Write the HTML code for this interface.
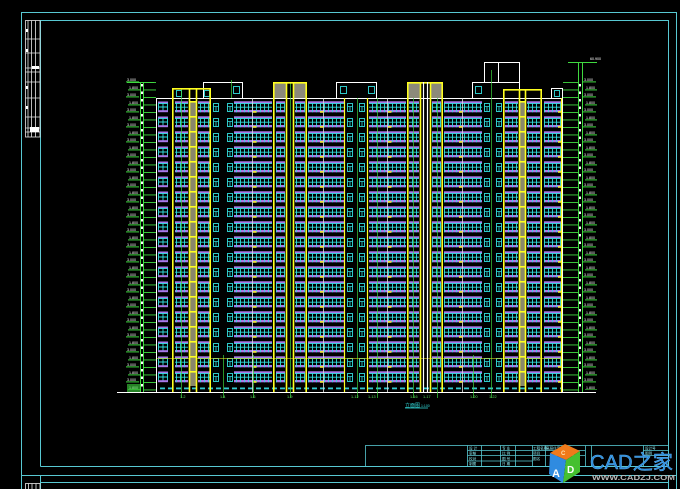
<!DOCTYPE html>
<html><head><meta charset="utf-8"><style>
html,body{margin:0;padding:0;background:#000;width:680px;height:489px;overflow:hidden;}
svg{display:block;}
</style></head><body>
<svg width="680" height="489" viewBox="0 0 680 489" xmlns="http://www.w3.org/2000/svg" font-family="Liberation Sans, Noto Sans CJK SC, sans-serif">
<defs>
 <pattern id="wide" patternUnits="userSpaceOnUse" x="0" y="101" width="4" height="15">
  <rect y="0.3" width="4" height="2" fill="#a878e8"/>
  <rect y="9" width="4" height="2.3" fill="#a878e8"/>
  <path d="M0 2.6H4M0.5 2V11.3M0 6.2H4" stroke="#33dede" stroke-width="0.9" fill="none"/>
 </pattern>
 <pattern id="winA" patternUnits="userSpaceOnUse" x="0" y="101" width="13" height="15">
  <rect x="2" y="0.5" width="10" height="2" fill="#a878e8"/>
  <rect x="2.5" y="2.5" width="9" height="8" fill="none" stroke="#33dede" stroke-width="0.9"/>
  <path d="M7 2.5V10.5M2.5 6H11.5" stroke="#33dede" stroke-width="0.9"/>
  <rect x="2" y="9.2" width="10" height="2" fill="#a878e8"/>
 </pattern>
 <pattern id="nar" patternUnits="userSpaceOnUse" x="0" y="101" width="6" height="15">
  <rect x="0.5" y="2.5" width="5" height="8" fill="none" stroke="#33dede" stroke-width="0.9"/>
  <path d="M0.5 5.5H5.5M3 5.5V10.5" stroke="#33dede" stroke-width="0.8"/>
 </pattern>
 <pattern id="tg" patternUnits="userSpaceOnUse" x="0" y="101" width="7" height="15">
  <rect width="7" height="15" fill="#8a886a"/>
  <rect y="0" width="7" height="1.6" fill="#ffff20"/>
 </pattern>
 <pattern id="ym" patternUnits="userSpaceOnUse" x="0" y="101" width="4" height="15">
  <rect x="0" y="10" width="3.5" height="1.8" fill="#f0e040"/>
 </pattern>
 <pattern id="tick" patternUnits="userSpaceOnUse" x="0" y="82" width="16" height="7.5">
  <rect x="0" y="0" width="16" height="0.9" fill="#3fd83f"/>
 </pattern>
 <pattern id="elL" patternUnits="userSpaceOnUse" x="0" y="78" width="16" height="15">
  <text x="1" y="3" font-size="3.6" fill="#ffffff">3.000</text>
  <rect x="0" y="3.4" width="13" height="1" fill="#3fd83f"/>
  <text x="3" y="11" font-size="3.6" fill="#ffffff">1.800</text>
  <rect x="2" y="11.4" width="12" height="1" fill="#3fd83f"/>
 </pattern>
 <pattern id="mk" patternUnits="userSpaceOnUse" x="0" y="84" width="3" height="7.5">
  <rect x="0" y="0" width="2" height="2.5" fill="#ffffff"/>
 </pattern>
 <pattern id="gdash" patternUnits="userSpaceOnUse" x="0" y="387" width="8" height="4">
  <rect x="0" y="0.5" width="5" height="1.8" fill="#33c8d0"/>
 </pattern>
</defs>

<rect width="680" height="489" fill="#000"/>

<!-- Frames -->
<g fill="none" stroke="#58c8d2" stroke-width="1">
 <path d="M21.5 489V12.5H676.5V489"/>
 <path d="M40.5 466.5V20.5H668.5V466.5H40.5"/>
 <path d="M21 475.5H677"/>
 <path d="M40 482.5H668"/>
 <path d="M40.5 475V489M668.5 475V489"/>
</g>

<!-- Left title strip -->
<g stroke="#e8e8e8" stroke-width="0.8" fill="none">
 <rect x="25.5" y="20.5" width="14.5" height="116.5"/>
 <path d="M28 20.5V137M31.5 20.5V137M35.5 20.5V137"/>
 <path d="M25.5 39H40M25.5 53H40M25.5 68H40M25.5 72H40M25.5 82H40M25.5 98H40M25.5 117H40M25.5 128H40M25.5 132H40"/>
 <rect x="25.5" y="483.5" width="14.5" height="6"/>
 <path d="M28.5 483.5V489M32 483.5V489M36 483.5V489"/>
</g>
<g fill="#ffffff">
 <rect x="26" y="29" width="2" height="3"/><rect x="26" y="49" width="2" height="3"/>
 <rect x="26" y="86" width="2" height="3"/><rect x="26" y="106" width="2" height="3"/>
 <rect x="32" y="66" width="7" height="3"/><rect x="30" y="127" width="9" height="5"/>
</g>

<!-- Building base outline -->
<g stroke="#ffffff" stroke-width="1" fill="none">
 <path d="M156.5 392V98.5H562.5V392"/>
 <path d="M117 392.5H596"/>
</g>

<!-- roof boxes -->
<g stroke="#ffffff" stroke-width="1" fill="none">
 <rect x="203.5" y="82.5" width="39" height="16"/>
 <rect x="336.5" y="82.5" width="40" height="16"/>
 <rect x="472.5" y="82.5" width="47" height="16"/>
 <rect x="484.5" y="62.5" width="35" height="20"/>
 <path d="M498.5 62.5V82.5"/>
 <rect x="551.5" y="88.5" width="11" height="10"/>
</g>
<g fill="none" stroke="#33dede" stroke-width="0.9">
 <rect x="233.5" y="86.5" width="6" height="7"/>
 <rect x="340.5" y="86.5" width="6" height="7"/>
 <rect x="368.5" y="86.5" width="6" height="7"/>
 <rect x="475.5" y="86.5" width="6" height="7"/>
 <rect x="554.5" y="90.5" width="5" height="6"/>
 <rect x="204.5" y="90.5" width="5" height="6"/>
 <rect x="176.5" y="90.5" width="5" height="6"/>
</g>

<!-- window groups -->
<rect x="158" y="101" width="13" height="285" fill="url(#winA)" transform="translate(0,0)"/>
<g>
 <rect x="234" y="101" width="38" height="285" fill="url(#wide)"/>
 <rect x="308" y="101" width="36" height="285" fill="url(#wide)"/>
 <rect x="369" y="101" width="37" height="285" fill="url(#wide)"/>
 <rect x="444" y="101" width="38" height="285" fill="url(#wide)"/>
 <rect x="544" y="101" width="17" height="285" fill="url(#wide)"/>
 <rect x="175" y="101" width="13" height="285" fill="url(#wide)"/>
 <rect x="198" y="101" width="12" height="285" fill="url(#wide)"/>
 <rect x="276" y="101" width="9" height="285" fill="url(#wide)"/>
 <rect x="295" y="101" width="10" height="285" fill="url(#wide)"/>
 <rect x="409" y="101" width="10" height="285" fill="url(#wide)"/>
 <rect x="432" y="101" width="9" height="285" fill="url(#wide)"/>
 <rect x="505" y="101" width="13" height="285" fill="url(#wide)"/>
 <rect x="527" y="101" width="13" height="285" fill="url(#wide)"/>
</g>
<g>
 <rect transform="translate(213,0)" x="0" y="101" width="6" height="285" fill="url(#nar)"/>
 <rect transform="translate(227,0)" x="0" y="101" width="6" height="285" fill="url(#nar)"/>
 <rect transform="translate(347,0)" x="0" y="101" width="6" height="285" fill="url(#nar)"/>
 <rect transform="translate(359,0)" x="0" y="101" width="6" height="285" fill="url(#nar)"/>
 <rect transform="translate(484,0)" x="0" y="101" width="6" height="285" fill="url(#nar)"/>
 <rect transform="translate(496,0)" x="0" y="101" width="6" height="285" fill="url(#nar)"/>
</g>
<!-- ground dashes -->
<rect x="158" y="387" width="404" height="4" fill="url(#gdash)"/>

<!-- thin white dividers with yellow marks -->
<g stroke="#e0e0e0" stroke-width="0.8">
 <path d="M252.5 98V392M323.5 98V392M387.5 98V392M462.5 98V392"/>
</g>
<rect transform="translate(253,0)" x="0" y="101" width="4" height="285" fill="url(#ym)"/>
<rect transform="translate(320,0)" x="0" y="101" width="4" height="285" fill="url(#ym)"/>
<rect transform="translate(388,0)" x="0" y="101" width="4" height="285" fill="url(#ym)"/>
<rect transform="translate(459,0)" x="0" y="101" width="4" height="285" fill="url(#ym)"/>
<rect transform="translate(558,0)" x="0" y="101" width="4" height="285" fill="url(#ym)"/>

<!-- green axis lines -->
<g stroke="#3fd83f" stroke-width="0.8" opacity="0.85">
 <path d="M181.5 88V398M231.5 80V98M290.5 82V398M357.5 98V398M377.5 98V398M413.5 82V398M437.5 82V398M491.5 70V398M223.5 355V398M253.5 355V398M473.5 355V398"/>
</g>

<!-- horizontal yellow line -->
<path d="M157 358.5H562" stroke="#d8d820" stroke-width="0.8" opacity="0.8"/>

<!-- Towers -->
<!-- T1 -->
<rect transform="translate(190,0)" x="0" y="101" width="6" height="285" fill="url(#tg)"/>
<g stroke="#ffff20" stroke-width="1.6" fill="none">
 <path d="M172.8 392V88.8H210.2V392"/>
 <path d="M189.5 88V392M196.5 88V392"/>
</g>
<!-- T2 -->
<rect x="274" y="83" width="12" height="15" fill="#8c8a7a"/>
<rect x="294" y="83" width="12" height="15" fill="#8c8a7a"/>
<g stroke="#ffff20" stroke-width="1.6" fill="none">
 <path d="M273.8 392V82.8H306.2V392"/>
 <path d="M286.5 82V392M293.5 82V392"/>
</g>
<!-- T3 -->
<rect x="408" y="83" width="12" height="15" fill="#8c8a7a"/>
<rect x="431" y="83" width="11" height="15" fill="#8c8a7a"/>
<g stroke="#ffff20" stroke-width="1.6" fill="none">
 <path d="M407.8 392V82.8H442.2V392"/>
 <path d="M420.5 82V392M430.5 82V392"/>
</g>
<g stroke="#ffffff" stroke-width="1.2">
 <path d="M423.5 82V392M427.5 82V392"/>
</g>
<!-- T4 -->
<rect transform="translate(519,0)" x="0" y="101" width="6" height="285" fill="url(#tg)"/>
<g stroke="#ffff20" stroke-width="1.6" fill="none">
 <path d="M503.8 392V89.8H541.2V392"/>
 <path d="M519.5 89V392M525.5 89V392"/>
</g>
<path d="M344.5 98V392M367.5 98V392M561.5 98V392" stroke="#ffff20" stroke-width="1.2"/>

<!-- Left elevation marks -->
<g stroke="#3fd83f" stroke-width="1">
 <path d="M140.5 82V392M143.5 82V392"/>
 <path d="M127 82.5H154"/>
</g>
<rect x="144" y="82" width="12" height="310" fill="url(#tick)"/>
<rect x="141" y="84" width="2" height="306" fill="url(#mk)"/>
<rect transform="translate(126,0)" x="0" y="78" width="16" height="312" fill="url(#elL)"/>
<rect x="127" y="384" width="14" height="8" fill="#3fd83f" opacity="0.6"/>

<!-- Right elevation marks -->
<g stroke="#3fd83f" stroke-width="1">
 <path d="M578.5 62V392M582.5 62V392"/>
 <path d="M568 62.5H597"/>
</g>
<rect x="563" y="82" width="15" height="310" fill="url(#tick)"/>
<rect x="579" y="84" width="2" height="306" fill="url(#mk)"/>
<rect transform="translate(583,0)" x="0" y="78" width="16" height="312" fill="url(#elL)"/>
<text x="590" y="60" font-size="3.6" fill="#fff">60.900</text>

<!-- Bottom axis labels -->
<g font-size="3.8" fill="#5fe05f">
 <text x="180" y="398">1-2</text>
 <text x="220" y="398">1-4</text>
 <text x="250" y="398">1-6</text>
 <text x="287" y="398">1-9</text>
 <text x="351" y="398">1-12</text>
 <text x="368" y="398">1-13</text>
 <text x="410" y="398">1-16</text>
 <text x="423" y="398">1-17</text>
 <text x="470" y="398">1-20</text>
 <text x="489" y="398">1-22</text>
</g>
<text x="405" y="407" font-size="5" fill="#33dede">立面图</text>
<path d="M405 408H428" stroke="#33dede" stroke-width="0.8"/>
<text x="421" y="407" font-size="3.5" fill="#33dede">1:100</text>

<!-- Title block -->
<g fill="none" stroke="#58c8d2" stroke-width="0.8">
 <rect x="365.5" y="445.5" width="303" height="21"/>
 <path d="M467.5 445.5V466.5M481.5 445.5V466.5M500.5 445.5V466.5M515.5 445.5V466.5M532.5 445.5V466.5M545.5 445.5V466.5M585.5 445.5V466.5M591.5 445.5V466.5M643.5 445.5V466.5"/>
 <path d="M467.5 450.5H585M467.5 455.5H585M467.5 461H532M643 450.5H668M643 455.5H668"/>
</g>
<g font-size="3.6" fill="#8ee8ee">
 <text x="469" y="449.5">设 计</text><text x="469" y="454.5">审核</text><text x="469" y="460">校对</text><text x="469" y="465">制图</text>
 <text x="502" y="449.5">专 业</text><text x="502" y="454.5">比 例</text><text x="502" y="460">图 号</text><text x="502" y="465">日 期</text>
 <text x="533" y="449.5">工程名称</text><text x="533" y="454.5">项目</text><text x="533" y="460">图名</text>
 <text x="546" y="449.5">高层住宅</text>
 <text x="645" y="449.5">设计号</text><text x="645" y="454.5">图别</text>
</g>

<!-- Logo cube -->
<g>
 <polygon points="565,444 580,451 566,460 550,453" fill="#f07a1a"/>
 <polygon points="550,453 566,460 563,483 549,474" fill="#2f8be0"/>
 <polygon points="566,460 580,451 580,472 563,483" fill="#45c030"/>
 <text x="552" y="477" font-size="11" font-weight="bold" fill="#ffffff">A</text>
 <text x="567" y="473" font-size="10" font-weight="bold" fill="#ffffff">D</text>
 <text x="561" y="455" font-size="6" font-weight="bold" fill="#ffe0b0">C</text>
</g>
<text x="590" y="469" font-size="20" fill="#2a88d8" stroke="#5ab0f0" stroke-width="0.5" textLength="83" lengthAdjust="spacingAndGlyphs">CAD之家</text>
<text x="592" y="480" font-size="7" font-weight="bold" fill="#b8b8b8" textLength="83" lengthAdjust="spacingAndGlyphs">WWW.CADZJ.COM</text>
</svg>
</body></html>
